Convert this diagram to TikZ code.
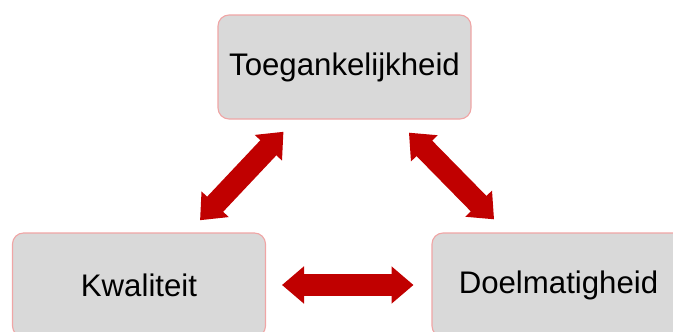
\documentclass[tikz,border=0pt]{standalone}
\usepackage{fontspec}
\setmainfont{Liberation Sans}
\usetikzlibrary{arrows.meta}
\definecolor{boxfill}{RGB}{217,217,217}
\definecolor{boxline}{RGB}{240,165,165}
\definecolor{arrowred}{RGB}{192,0,0}
\tikzset{
  box/.style={draw=boxline, line width=1.1pt, fill=boxfill, rounded corners=11pt,
    minimum width=253pt, minimum height=104pt, inner sep=0pt,
    font=\fontsize{31.2}{36}\selectfont},
  bigarrow/.style={draw=arrowred, line width=22pt,
    {Triangle[length=22pt,width=36pt,fill=arrowred,color=arrowred]}-{Triangle[length=22pt,width=36pt,fill=arrowred,color=arrowred]}}
}
\begin{document}
\begin{tikzpicture}[x=1pt,y=-1pt]
\useasboundingbox (0,0) rectangle (673,332);
\clip (0,0) rectangle (673,332);
\node[box] (T) at (344.5,67) {Toegankelijkheid};
\node[box] (K) at (139,285) {Kwaliteit};
\node[box] (D) at (558.5,285) {Doelmatigheid};
\draw[bigarrow, shorten <=143pt, shorten >=145pt] (K.center) -- (D.center);
\draw[bigarrow, shorten <=89pt, shorten >=89pt] (K.center) -- (T.center);
\draw[bigarrow, shorten <=92pt, shorten >=92pt] (T.center) -- (D.center);
\end{tikzpicture}
\end{document}
